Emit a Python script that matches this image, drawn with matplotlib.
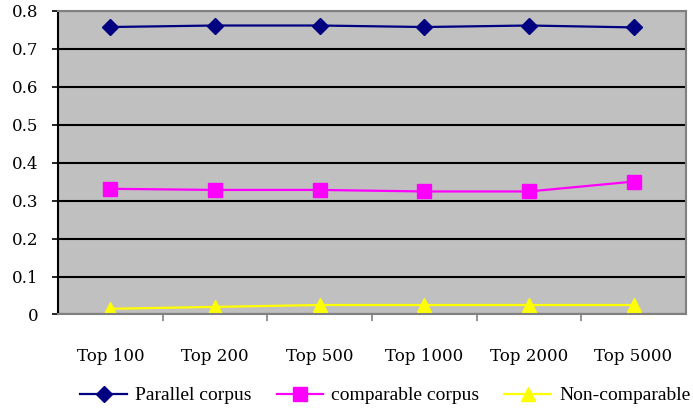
import matplotlib
matplotlib.use("Agg")
import matplotlib.pyplot as plt
import numpy as np

# values
categories = ["Top 100", "Top 200", "Top 500", "Top 1000", "Top 2000", "Top 5000"]
parallel = [0.757, 0.761, 0.761, 0.757, 0.761, 0.756]
comparable = [0.331, 0.328, 0.328, 0.324, 0.324, 0.350]
non_comparable = [0.015, 0.020, 0.025, 0.025, 0.025, 0.025]
y_ticks = [0, 0.1, 0.2, 0.3, 0.4, 0.5, 0.6, 0.7, 0.8]
y_labels = ["0", "0.1", "0.2", "0.3", "0.4", "0.5", "0.6", "0.7", "0.8"]

plt.rcParams["font.family"] = ["Liberation Serif", "DejaVu Serif"]
tick_font = {"family": "DejaVu Serif", "size": 12}

fig = plt.figure(figsize=(6.93, 4.13), dpi=100)
ax = fig.add_axes([0.0837, 0.2385, 0.906, 0.7356])
ax.set_facecolor("#C0C0C0")

x = np.arange(len(categories))
ax.plot(x, parallel, color="#000080", marker="D", markersize=8, lw=1.6,
        label="Parallel corpus")
ax.plot(x, comparable, color="#FF00FF", marker="s", markersize=9.5, lw=1.6,
        label="comparable corpus")
ax.plot(x, non_comparable, color="#FFFF00", marker="^", markersize=10, lw=1.6,
        label="Non-comparable")

ax.set_xlim(-0.5, len(categories) - 0.5)
ax.set_ylim(0, 0.8)
ax.set_yticks(y_ticks)
ax.set_yticklabels(y_labels, fontdict=tick_font)
ax.yaxis.grid(True, color="black", lw=1.5)
ax.set_axisbelow(True)

ax.set_xticks(x)
ax.set_xticklabels(categories, fontdict=tick_font)
ax.tick_params(axis="x", which="major", length=0, pad=24)
ax.set_xticks(np.arange(0.5, len(categories) - 1, 1.0), minor=True)
ax.tick_params(axis="x", which="minor", length=5, color="#808080", width=1.2)
ax.tick_params(axis="y", length=4, width=1.2, pad=10, direction="out")

ax.spines["left"].set_color("black")
ax.spines["left"].set_linewidth(1.5)
for s in ["top", "right", "bottom"]:
    ax.spines[s].set_color("#808080")
    ax.spines[s].set_linewidth(1.5)

fig.legend(loc="center", bbox_to_anchor=(0.556, 0.042), ncol=3, frameon=False,
           fontsize=14, handlelength=2.4, handletextpad=0.4, columnspacing=1.3)

fig.savefig("out.png", dpi=100)
